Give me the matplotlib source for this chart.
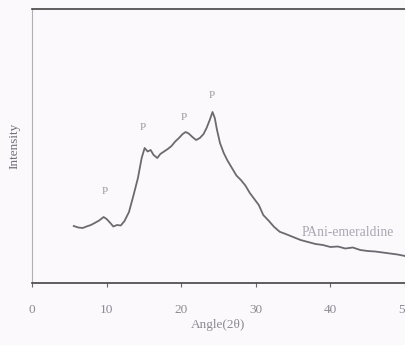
import matplotlib.pyplot as plt

# 2-theta (deg) and intensity (a.u.)
angle = [5.6, 6.2, 6.8, 7.3, 7.9, 8.4, 9.0, 9.6, 10.0, 10.5, 10.9, 11.4, 11.9,
         12.4, 13.0, 13.6, 14.2, 14.7, 15.1, 15.5, 15.9, 16.3, 16.8, 17.2, 17.7,
         18.2, 18.7, 19.2, 19.7, 20.2, 20.6, 21.0, 21.5, 22.0, 22.5, 23.0, 23.4,
         23.8, 24.2, 24.5, 24.8, 25.2, 25.7, 26.2, 26.8, 27.4, 28.0, 28.6, 29.2,
         29.8, 30.4, 31.0, 31.7, 32.4, 33.2, 34.0, 35.0, 36.0, 37.0, 38.0, 39.0,
         40.0, 41.0, 42.0, 43.0, 44.0, 45.0, 46.0, 47.0, 48.0, 49.0, 50.0]
intensity = [228, 222, 220, 226, 232, 240, 250, 264, 256, 240, 226, 232, 230,
             248, 284, 350, 420, 500, 540, 526, 532, 512, 500, 516, 526,
             536, 548, 566, 580, 596, 604, 598, 584, 572, 580, 596, 620,
             650, 684, 660, 612, 560, 520, 490, 460, 430, 412, 390, 360,
             336, 312, 272, 250, 226, 205, 196, 184, 172, 164, 156, 152,
             144, 146, 138, 142, 132, 128, 126, 122, 118, 114, 108]
x_ticks = [0, 10, 20, 30, 40, 50]

# peak markers
peak_x = [9.7, 14.9, 20.3, 24.1]
peak_y = [364, 620, 664, 750]

plt.rcParams['font.family'] = ['Liberation Serif', 'DejaVu Serif']

fig = plt.figure(figsize=(4.05, 3.45), dpi=100)
fig.patch.set_facecolor('#fbf9fc')
ax = fig.add_axes([32 / 405, 1 - 283 / 345, 373 / 405, 274 / 345])
ax.set_facecolor('#fbf9fc')

ax.plot(angle, intensity, color='#6a6a70', lw=1.3)

for px, py in zip(peak_x, peak_y):
    ax.text(px, py, 'P', color='#9a9aa2', fontsize=8, ha='center', va='center')

ax.text(36.2, 204, 'PAni-emeraldine', color='#a8a8b2', fontsize=9.8,
        ha='left', va='center')

ax.set_xlim(0, 50)
ax.set_ylim(0, 1096)
ax.set_xticks(x_ticks)
ax.set_xticklabels([str(t) for t in x_ticks], color='#8a8a92', fontsize=9.5)
ax.set_yticks([])
ax.tick_params(axis='x', length=3, color='#666', pad=12)

ax.spines['right'].set_visible(False)
ax.spines['top'].set_color('#444')
ax.spines['bottom'].set_color('#444')
ax.spines['left'].set_color('#b0b0b8')
ax.spines['top'].set_linewidth(1.2)
ax.spines['bottom'].set_linewidth(1.2)

ax.set_xlabel('Angle(2θ)', color='#8a8a92', fontsize=9.5, labelpad=2)
ax.set_ylabel('Intensity', color='#70707a', fontsize=9.5, labelpad=8)

fig.savefig('out.png', dpi=100, facecolor=fig.get_facecolor())
